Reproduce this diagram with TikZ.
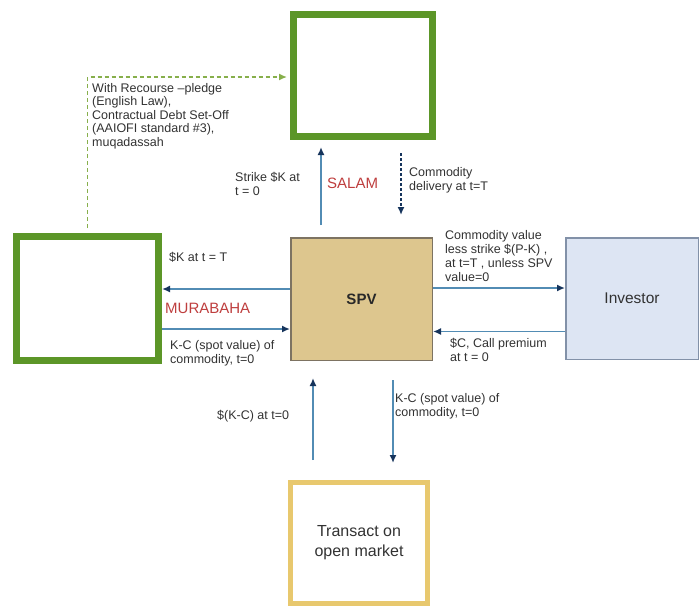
\documentclass[tikz,border=0pt]{standalone}
\usepackage{fontspec}
\setmainfont{Liberation Sans}
\usetikzlibrary{arrows.meta}
\definecolor{boxgreen}{RGB}{92,150,40}
\definecolor{linkgreen}{RGB}{135,175,75}
\definecolor{spvfill}{RGB}{221,198,142}
\definecolor{spvedge}{RGB}{125,115,98}
\definecolor{invfill}{RGB}{221,229,243}
\definecolor{invedge}{RGB}{130,145,168}
\definecolor{mktedge}{RGB}{232,200,110}
\definecolor{flowblue}{RGB}{82,140,180}
\definecolor{headblue}{RGB}{22,52,92}
\definecolor{tagred}{RGB}{190,62,62}
\definecolor{txtgray}{RGB}{50,50,50}
\begin{document}
\begin{tikzpicture}[x=1pt,y=-1pt,
  lbl/.style={font=\fontsize{12.5}{14}\selectfont,text=txtgray,align=left,anchor=north west,inner sep=0pt},
  tag/.style={font=\fontsize{15}{17}\selectfont,text=tagred,inner sep=0pt},
  flow/.style={draw=flowblue,line width=1.8pt,-{Latex[length=8pt,width=7pt,color=headblue]}},
  party/.style={draw=boxgreen,line width=7pt,inner sep=0pt}]
\useasboundingbox (0,0) rectangle (700,608);

% Counterparty boxes (left empty as in the source slide).
\node[party,minimum width=139pt,minimum height=122pt] (salam) at (363,75.5) {};
\node[party,minimum width=142pt,minimum height=124pt] (murab) at (87.5,298.5) {};

% SPV, investor and market.
\node[draw=spvedge,fill=spvfill,line width=1.5pt,minimum width=141.5pt,minimum height=122.5pt,
  font=\bfseries\fontsize{15}{17}\selectfont,text=txtgray!80!black] (spv) at (361.5,299) {SPV};
\node[draw=invedge,fill=invfill,line width=1.5pt,minimum width=132.5pt,minimum height=121.5pt,
  font=\fontsize{15.5}{18}\selectfont,text=txtgray] (inv) at (632,298.5) {Investor};
\node[draw=mktedge,line width=5pt,minimum width=137pt,minimum height=121pt,align=center,
  font=\fontsize{16}{20}\selectfont,text=txtgray] (mkt) at (359,543) {Transact on\\open market};

% Salam leg.
\draw[flow] ([xshift=-40.5pt,yshift=12pt]spv.north) -- ([xshift=-42pt,yshift=-7pt]salam.south);
\draw[draw=headblue,line width=1.6pt,dash pattern=on 3pt off 2pt,-{Latex[length=8pt,width=7pt]}]
  ([xshift=38pt,yshift=-13pt]salam.south) -- ([xshift=39.5pt,yshift=22pt]spv.north);
\node[tag,anchor=west] (salamtag) at (327,183) {SALAM};
\node[lbl] (strike) at (235,172) {Strike \$K at\\t = 0};
\node[lbl] (deliv) at (409,167) {Commodity\\delivery at t=T};

% Recourse link between the two counterparties.
\draw[linkgreen,line width=1.4pt,dash pattern=on 4pt off 3pt,-{Latex[length=8pt,width=7pt]}]
  ([yshift=5pt]murab.north) |- ([xshift=-3pt,yshift=-1.5pt]salam.west);
\node[lbl,font=\fontsize{12.5}{13.5}\selectfont] (recourse) at (92,83)
  {With Recourse --pledge\\(English Law),\\Contractual Debt Set-Off\\(AAIOFI standard \#3),\\muqadassah};

% Murabaha leg.
\draw[flow] ([yshift=10pt]spv.west) -- ([yshift=10pt]spv.west -| murab.east);
\draw[flow] ([yshift=-30.5pt]murab.east) -- ([yshift=-30.5pt]murab.east -| spv.west);
\node[tag,anchor=west] (murabtag) at (165,308) {MURABAHA};
\node[lbl] (kT) at (169,252) {\$K at t = T};
\node[lbl] (kcleft) at (170,340) {K-C (spot value) of\\commodity, t=0};

% Investor leg.
\draw[flow] ([yshift=11pt]spv.east) -- ([yshift=11pt]spv.east -| inv.west);
\draw[flow] ([yshift=-33pt]inv.west) -- ([yshift=-33pt]inv.west -| spv.east);
\node[lbl] (payoff) at (445,230) {Commodity value\\less strike \$(P-K) ,\\at t=T , unless SPV\\value=0};
\node[lbl] (premium) at (450,338) {\$C, Call premium\\at t = 0};

% Open market leg.
\draw[flow] ([xshift=-46pt,yshift=20pt]mkt.north) -- ([xshift=-48.5pt,yshift=-17pt]spv.south);
\draw[flow] ([xshift=31.5pt,yshift=-19pt]spv.south) -- ([xshift=34pt,yshift=17pt]mkt.north);
\node[lbl] (cash) at (217,410) {\$(K-C) at t=0};
\node[lbl] (kcdown) at (395,393) {K-C (spot value) of\\commodity, t=0};
\end{tikzpicture}
\end{document}
